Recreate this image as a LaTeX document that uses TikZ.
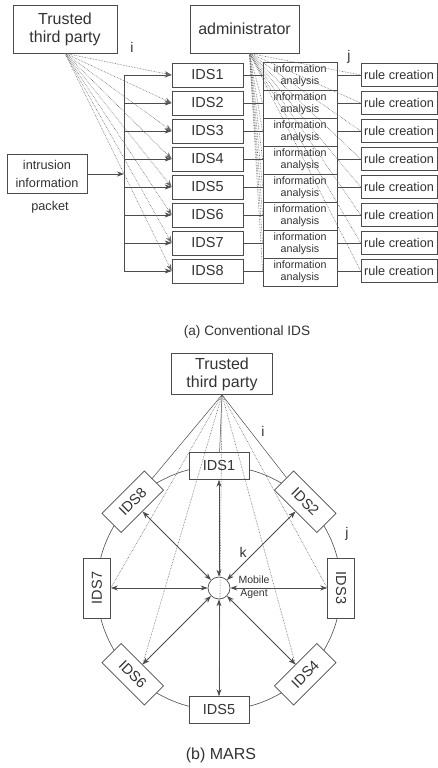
\documentclass[tikz,border=0pt]{standalone}
\usepackage{fontspec}
\setmainfont{Liberation Sans}
\usetikzlibrary{arrows.meta}
\newcommand{\setfs}[2]{\fontsize{#1}{#2}\selectfont}

\begin{document}
\begin{tikzpicture}[x=1pt, y=-1pt, >={Stealth[length=7pt,width=5pt]},
  every node/.style={text=black!80},
  box/.style={draw=black!70, line width=0.7pt, inner sep=0pt, align=center},
  link/.style={draw=black!70, line width=0.6pt},
  dots/.style={draw=black!60, densely dotted, line width=0.6pt}]
  \fill[white] (0,0) rectangle (438,768);
  \useasboundingbox (0,0) rectangle (438,768);

  % (a) conventional IDS
  \node[box, minimum width=104pt, minimum height=48pt, font=\setfs{16}{18}] (ttpA) at (65,29) {Trusted\\third party};
  \node[box, minimum width=109pt, minimum height=48pt, font=\setfs{16}{18}] (admin) at (244.5,29) {administrator};
  \node[font=\setfs{14}{16}] (iA) at (132,47) {i};
  \node[font=\setfs{14}{16}] (jA) at (349,57) {j};
  \node[box, minimum width=80pt, minimum height=39pt, font=\setfs{12.7}{18}] (intr) at (47,174) {intrusion\\information};
  \node[font=\setfs{12.7}{15}] (pkt) at (50,207) {packet};
  \coordinate (busTop) at (124,75);
  \coordinate (busBot) at (124,271);
  \draw[link] (busTop) -- (busBot);
  \draw[link,->] (intr.east) -- (intr.east -| busTop);
  \foreach \k [evaluate=\k as \yy using 75+28*(\k-1)] in {1,...,8} {
    \node[box, minimum width=71pt, minimum height=24pt, font=\setfs{14.5}{16}] (ids\k) at (207.5,\yy) {IDS\k};
    \node[box, minimum width=74pt, minimum height=28pt, font=\setfs{10.7}{12}] (info\k) at (300,\yy+1) {information\\analysis};
    \node[box, minimum width=76pt, minimum height=23.5pt, font=\setfs{12.7}{14}] (rule\k) at (399,\yy) {rule creation};
    \draw[link,->] (busTop |- ids\k.west) -- (ids\k.west);
    \draw[link] (ids\k.east) -- (ids\k.east -| info\k.west);
    \draw[link] (info\k.east |- rule\k.west) -- (rule\k.west);
    \draw[dots,->] (ttpA.south) -- (ids\k.west);
    \draw[dots] ([xshift=5pt]admin.south) -- (info\k.west);
    \draw[dots] ([xshift=5pt]admin.south) -- (rule\k.west);
  }
  \node[font=\setfs{13.6}{16}] (capA) at (247,332) {(a) Conventional IDS};

  % (b) MARS
  \node[box, minimum width=101pt, minimum height=41pt, font=\setfs{16}{18}] (ttpB) at (222,374) {Trusted\\third party};
  \coordinate (hub) at (219,588);
  \draw[link] (hub) circle[radius=122];
  \node[circle, draw=black!70, line width=0.7pt, minimum size=22pt, inner sep=0pt] (mob) at (hub) {};
  \node[align=center, font=\setfs{10.5}{13}] (mobtxt) at (254,587) {Mobile\\Agent};
  \foreach \k/\ang/\rot/\side in {1/-90/0/south, 2/-45/-45/south, 3/0/-90/south, 4/45/45/north,
      5/90/0/north, 6/135/-45/north, 7/180/90/south, 8/-135/45/south} {
    \node[box, fill=white, minimum width=60pt, minimum height=27pt, rotate=\rot,
      font=\setfs{14.5}{16}] (m\k) at ([shift={(\ang:122)}]hub) {IDS\k};
    \draw[link, line width=0.8pt, <->] (m\k.\side) -- (mob);
  }
  \foreach \k in {1,2,8}
    \draw[link, line width=0.5pt] (ttpB.south) -- (m\k);
  \foreach \k/\side in {3/south, 4/north, 5/north, 6/north, 7/south}
    \draw[dots] (ttpB.south) -- (m\k.\side);
  \node[font=\setfs{14}{16}] (iB) at (263,431) {i};
  \node[font=\setfs{14}{16}] (jB) at (347,534) {j};
  \node[font=\setfs{14}{16}] (kB) at (243,552) {k};
  \node[font=\setfs{16}{18}] (capB) at (221,755) {(b) MARS};
\end{tikzpicture}
\end{document}
